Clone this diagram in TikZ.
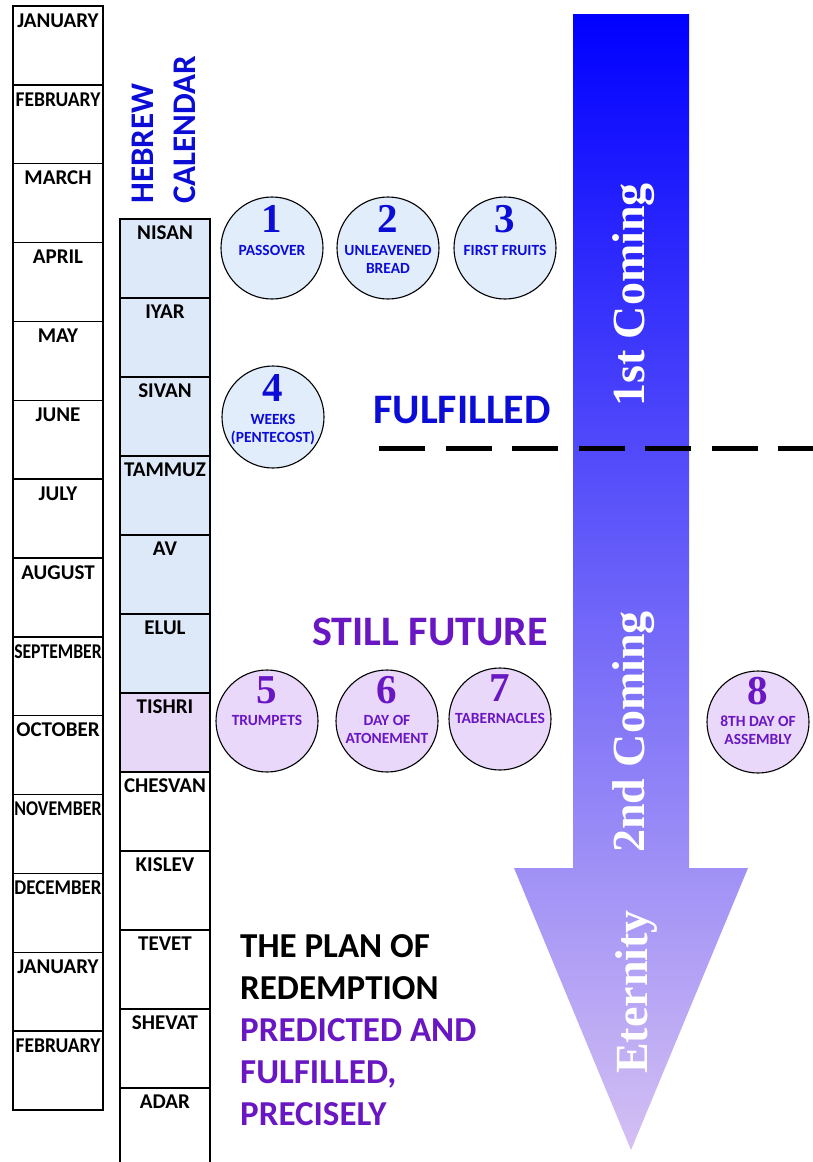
\documentclass[tikz,border=0pt]{standalone}
\usepackage{graphicx}
\usepackage{fontspec}
\setmainfont{Carlito}
\newfontfamily\feastserif{Liberation Serif}
\usetikzlibrary{calc}

\definecolor{calblue}{RGB}{12,12,215}
\definecolor{futpurple}{RGB}{105,22,195}
\definecolor{nisanfill}{RGB}{221,233,248}
\definecolor{tishrifill}{RGB}{232,216,247}
\definecolor{pastfill}{RGB}{226,237,251}
\definecolor{futfill}{RGB}{233,216,249}
\definecolor{arrowtop}{RGB}{0,0,255}
\definecolor{arrowmid}{RGB}{118,90,246}
\definecolor{arrowbot}{RGB}{212,192,243}

\tikzset{
  monthbox/.style={draw, line width=1.5pt, minimum width=90pt, inner sep=0pt},
  monthname/.style={font=\fontsize{21}{24}\selectfont\bfseries, anchor=base, inner sep=0pt},
  feast/.style={circle, draw, line width=1.1pt, minimum size=102pt, inner sep=0pt},
  feastnum/.style={font=\feastserif\bfseries\fontsize{41}{41}\selectfont, anchor=base, inner sep=0pt},
  feastname/.style={font=\fontsize{15.5}{18}\selectfont\bfseries, align=center, anchor=north, inner sep=0pt},
  coming/.style={font=\feastserif\bfseries\fontsize{46}{46}\selectfont, text=white, rotate=90, inner sep=0pt},
  bigword/.style={font=\fontsize{42}{42}\selectfont\bfseries, inner sep=0pt},
  planline/.style={font=\fontsize{35}{35}\selectfont\bfseries, anchor=base west, inner sep=0pt},
}

\begin{document}
\begin{tikzpicture}[x=1pt,y=-1pt]
  \useasboundingbox (0,0) rectangle (813,1162);
  \clip (0,0) rectangle (813,1162);

  % gregorian months
  \foreach \mname/\msq [count=\i from 0] in {JANUARY/1,FEBRUARY/0.93,MARCH/1,APRIL/1,MAY/1,JUNE/1,JULY/1,AUGUST/1,SEPTEMBER/0.84,OCTOBER/1,NOVEMBER/0.85,DECEMBER/0.9,JANUARY/1,FEBRUARY/0.93} {
    \node[monthbox, minimum height=78.86pt] (greg\i) at (58,{6+78.86*(\i+0.5)}) {};
    \node[monthname] at ([yshift=-22pt]greg\i.north) {\scalebox{\msq}[1]{\mname}};
  }

  % hebrew months
  \foreach \hname/\hcol [count=\i from 0] in {NISAN/nisanfill,IYAR/nisanfill,SIVAN/nisanfill,TAMMUZ/nisanfill,AV/nisanfill,ELUL/nisanfill,TISHRI/tishrifill,CHESVAN/white,KISLEV/white,TEVET/white,SHEVAT/white,ADAR/white} {
    \node[monthbox, fill=\hcol, minimum height=79pt] (heb\i) at (165,{219+79*(\i+0.5)}) {};
    \node[monthname] at ([yshift=-21pt]heb\i.north) {\hname};
  }
  \node[font=\fontsize{33}{33}\selectfont\bfseries, text=calblue, rotate=90, anchor=west, inner sep=0pt] (hebrew) at (143,204) {HEBREW};
  \node[font=\fontsize{33}{33}\selectfont\bfseries, text=calblue, rotate=90, anchor=west, inner sep=0pt] (calendar) at (185,204) {CALENDAR};

  % the arrow
  \shade[top color=arrowtop, middle color=arrowmid, bottom color=arrowbot]
    (573,14) -- (689,14) -- (689,868) -- (748,868) -- (631,1150) -- (514,868) -- (573,868) -- cycle;
  \node[coming] (first) at (634,295) {1st Coming};
  \node[coming] (second) at (634,732) {2nd Coming};
  \node[coming] (eternity) at (636,992) {Eternity};

  % fulfilled / future divide
  \coordinate (divleft) at (379,448);
  \coordinate (divright) at (813,448);
  \draw[line width=5pt, dash pattern=on 46pt off 20.5pt] (divleft) -- (divright);
  \node[bigword, text=calblue] (fulfilled) at (462,410) {FULFILLED};
  \node[bigword, text=futpurple] (future) at (430,632) {STILL FUTURE};

  % spring feasts
  \node[feast, fill=pastfill] (passover) at (272,248) {};
  \node[feastnum, text=calblue] at ([yshift=16pt]passover.center) {1};
  \node[feastname, text=calblue] at ([yshift=3pt]passover.center) {PASSOVER};
  \node[feast, fill=pastfill] (unleavened) at (388,248) {};
  \node[feastnum, text=calblue] at ([yshift=16pt]unleavened.center) {2};
  \node[feastname, text=calblue] at ([yshift=3pt]unleavened.center) {UNLEAVENED\\BREAD};
  \node[feast, fill=pastfill] (firstfruits) at (505,248) {};
  \node[feastnum, text=calblue] at ([yshift=16pt]firstfruits.center) {3};
  \node[feastname, text=calblue] at ([yshift=3pt]firstfruits.center) {FIRST FRUITS};
  \node[feast, fill=pastfill] (weeks) at (273,417) {};
  \node[feastnum, text=calblue] at ([yshift=16pt]weeks.center) {4};
  \node[feastname, text=calblue] at ([yshift=3pt]weeks.center) {WEEKS\\(PENTECOST)};

  % fall feasts
  \node[feast, fill=futfill] (trumpets) at (267,721) {};
  \node[feastnum, text=futpurple] at ([yshift=18pt]trumpets.center) {5};
  \node[feastname, text=futpurple] at ([yshift=6pt]trumpets.center) {TRUMPETS};
  \node[feast, fill=futfill] (atonement) at (387,721) {};
  \node[feastnum, text=futpurple] at ([yshift=18pt]atonement.center) {6};
  \node[feastname, text=futpurple] at ([yshift=6pt]atonement.center) {DAY OF\\ATONEMENT};
  \node[feast, fill=futfill] (tabernacles) at (500,719) {};
  \node[feastnum, text=futpurple] at ([yshift=18pt]tabernacles.center) {7};
  \node[feastname, text=futpurple] at ([yshift=6pt]tabernacles.center) {TABERNACLES};
  \node[feast, fill=futfill] (assembly) at (758,722) {};
  \node[feastnum, text=futpurple] at ([yshift=18pt]assembly.center) {8};
  \node[feastname, text=futpurple] at ([yshift=6pt]assembly.center) {8TH DAY OF\\ASSEMBLY};

  % caption
  \node[planline] (plan1) at (240,957) {THE PLAN OF};
  \node[planline] (plan2) at (240,999) {REDEMPTION};
  \node[planline, text=futpurple] (plan3) at (240,1041) {PREDICTED AND};
  \node[planline, text=futpurple] (plan4) at (240,1083) {FULFILLED,};
  \node[planline, text=futpurple] (plan5) at (240,1125) {PRECISELY};
\end{tikzpicture}
\end{document}
